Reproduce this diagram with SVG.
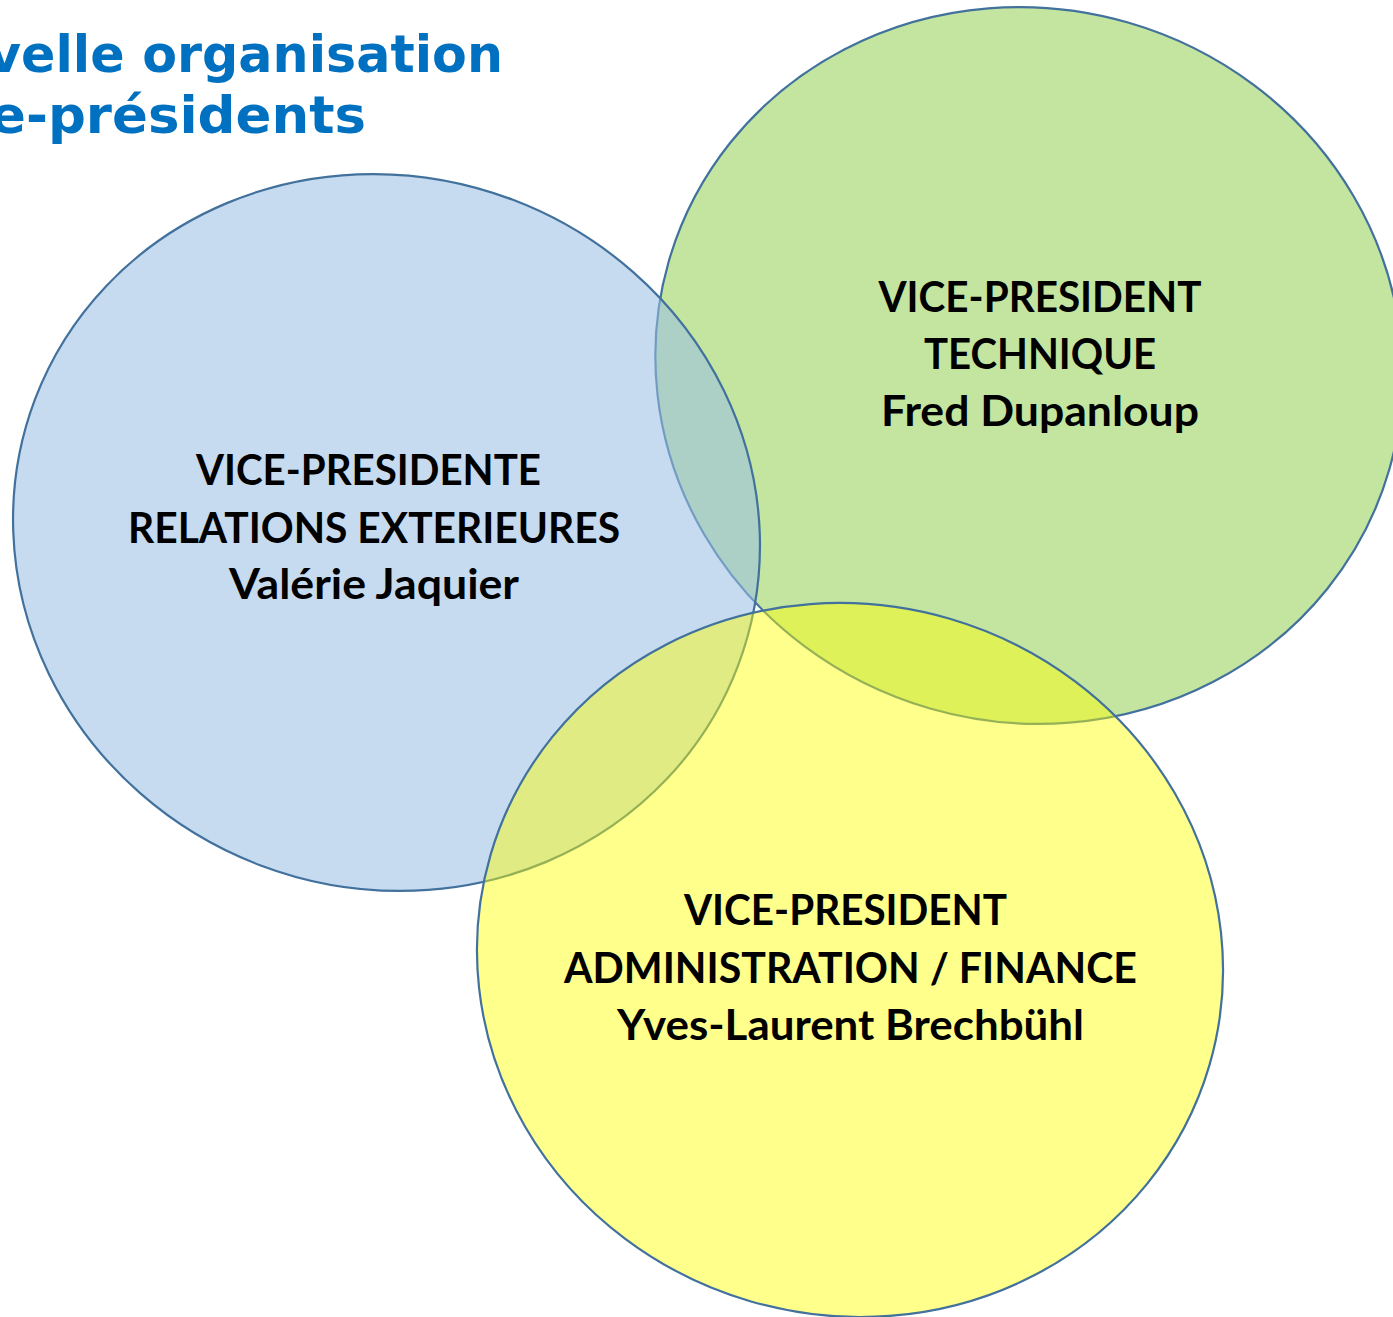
<svg xmlns="http://www.w3.org/2000/svg" width="1393" height="1317" viewBox="0 0 1393 1317">
  <style>
    .circle { stroke: #41719C; stroke-width: 2.2; }
    .lbl { font-family: Lato, "Open Sans", "Liberation Sans", sans-serif; font-weight: bold; font-size: 42px; fill: #000000; text-anchor: middle; }
    .title { font-family: "DejaVu Sans", Verdana, sans-serif; font-weight: bold; font-size: 52px; fill: #0070C0; }
  </style>
  <rect x="0" y="0" width="1393" height="1317" fill="#FFFFFF"/>

  <g id="title">
    <text class="title" x="-12" y="72" textLength="515" lengthAdjust="spacingAndGlyphs">velle organisation</text>
    <text class="title" x="-10" y="133" textLength="376" lengthAdjust="spacingAndGlyphs">e-présidents</text>
  </g>

  <g id="node-technique">
    <ellipse class="circle" cx="1029" cy="365.5" rx="375" ry="357" transform="rotate(16.1 1029 365.5)" fill="#C4E5A0"/>
    <text class="lbl" x="1040" y="312" textLength="323" lengthAdjust="spacingAndGlyphs">VICE-PRESIDENT</text>
    <text class="lbl" x="1040" y="369" textLength="232" lengthAdjust="spacingAndGlyphs">TECHNIQUE</text>
    <text class="lbl" x="1040" y="426" textLength="318" lengthAdjust="spacingAndGlyphs">Fred Dupanloup</text>
  </g>

  <g id="node-relations">
    <ellipse class="circle" cx="386.5" cy="532.5" rx="375.9" ry="355.9" transform="rotate(20.7 386.5 532.5)" fill="rgb(154,191,227)" fill-opacity="0.56"/>
    <text class="lbl" x="368.5" y="485" textLength="345" lengthAdjust="spacingAndGlyphs">VICE-PRESIDENTE</text>
    <text class="lbl" x="374" y="543" textLength="492" lengthAdjust="spacingAndGlyphs">RELATIONS EXTERIEURES</text>
    <text class="lbl" x="374" y="599" textLength="290" lengthAdjust="spacingAndGlyphs">Valérie Jaquier</text>
  </g>

  <g id="node-administration">
    <ellipse class="circle" cx="850" cy="960" rx="374.5" ry="355.5" transform="rotate(16.3 850 960)" fill="#FFFF00" fill-opacity="0.45"/>
    <text class="lbl" x="845.5" y="925" textLength="323" lengthAdjust="spacingAndGlyphs">VICE-PRESIDENT</text>
    <text class="lbl" x="850.5" y="983" textLength="573" lengthAdjust="spacingAndGlyphs">ADMINISTRATION / FINANCE</text>
    <text class="lbl" x="850.5" y="1040" textLength="467" lengthAdjust="spacingAndGlyphs">Yves-Laurent Brechbühl</text>
  </g>
</svg>
